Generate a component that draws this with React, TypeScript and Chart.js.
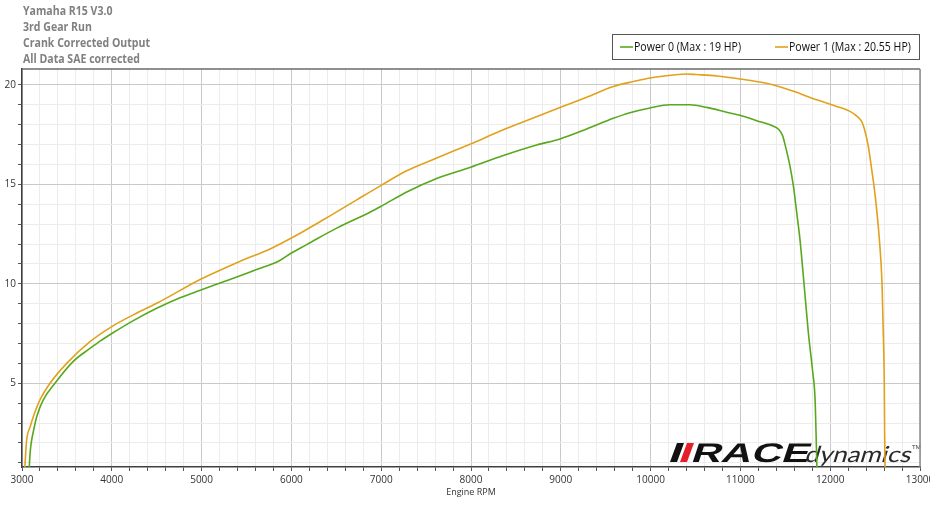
import React, { useRef, useEffect } from 'react';
import { Chart, registerables } from 'chart.js';

Chart.register(...registerables);

// header lines, top-left
const titleLines = ['Yamaha R15 V3.0', '3rd Gear Run', 'Crank Corrected Output', 'All Data SAE corrected'];

// axis labels
const rpmTickLabels = [3000, 4000, 5000, 6000, 7000, 8000, 9000, 10000, 11000, 12000, 13000];
const hpTickLabels = [5, 10, 15, 20];

// Power 0 (green run)
const power0Rpm = [3078, 3086, 3097, 3130, 3164, 3237, 3367, 3571, 3757, 3869, 4000, 4240, 4500, 4760, 5000, 5316, 5613, 5850, 6000, 6170, 6504, 6875, 7000, 7284, 7618, 7989, 8360, 8731, 8991, 9288, 9585, 9770, 9993, 10216, 10438, 10624, 10847, 10996, 11181, 11367, 11430, 11470, 11497, 11552, 11590, 11627, 11663, 11708, 11756, 11805, 11831, 11842, 11850, 11852];
const power0Hp = [0.5, 1.2, 1.81, 2.65, 3.32, 4.16, 5.0, 6.1, 6.75, 7.12, 7.5, 8.15, 8.77, 9.3, 9.7, 10.22, 10.72, 11.12, 11.55, 11.97, 12.8, 13.6, 13.9, 14.62, 15.3, 15.85, 16.45, 16.98, 17.28, 17.78, 18.32, 18.6, 18.84, 19.0, 19.0, 18.87, 18.63, 18.47, 18.2, 17.92, 17.75, 17.45, 17.0, 15.92, 14.92, 13.58, 12.25, 10.03, 7.58, 5.58, 4.25, 2.58, 1.08, 0.5];

// Power 1 (orange run)
const power1Rpm = [3028, 3040, 3052, 3090, 3126, 3200, 3312, 3498, 3757, 4000, 4240, 4500, 5000, 5428, 5762, 6000, 6356, 6727, 7000, 7284, 7618, 7989, 8360, 8657, 8991, 9288, 9585, 9808, 9993, 10253, 10400, 10513, 10736, 10996, 11292, 11590, 11849, 12072, 12220, 12300, 12345, 12380, 12424, 12462, 12499, 12547, 12577, 12591, 12602, 12606, 12610, 12612];
const power1Hp = [0.5, 1.4, 2.15, 2.8, 3.32, 4.16, 5.0, 6.0, 7.09, 7.85, 8.44, 9.02, 10.25, 11.13, 11.75, 12.3, 13.22, 14.22, 14.95, 15.68, 16.32, 17.02, 17.74, 18.27, 18.86, 19.38, 19.92, 20.17, 20.35, 20.5, 20.55, 20.52, 20.45, 20.3, 20.08, 19.68, 19.25, 18.92, 18.67, 18.42, 18.2, 17.8, 16.92, 15.75, 14.5, 12.25, 10.03, 7.58, 5.08, 2.58, 1.08, 0.5];

const GREEN = '#58a81e';
const ORANGE = '#e2a11c';
const FONT = '"Open Sans", "Noto Sans", sans-serif';
const TICK_FONT = '"Liberation Sans Narrow", "Open Sans", sans-serif';

const series = [
  { name: 'Power 0', rpm: power0Rpm, hp: power0Hp, color: GREEN },
  { name: 'Power 1', rpm: power1Rpm, hp: power1Hp, color: ORANGE },
];

// text squeezed horizontally, the source screenshot is narrow
function squeezed(ctx: CanvasRenderingContext2D, text: string, x: number, y: number, font: string, color: string, sx: number) {
  ctx.save();
  ctx.translate(x, y);
  ctx.scale(sx, 1);
  ctx.font = font;
  ctx.fillStyle = color;
  ctx.textBaseline = 'middle';
  ctx.textAlign = 'left';
  ctx.fillText(text, 0, 0);
  ctx.restore();
}

const logoPlugin = {
  id: 'logo',
  beforeDatasetsDraw(chart: any) {
    const ctx: CanvasRenderingContext2D = chart.ctx;
    const base = 462;
    ctx.save();
    // the two slanted bars
    const bar = (x: number, color: string) => {
      ctx.beginPath();
      ctx.moveTo(x, base);
      ctx.lineTo(x + 7, base);
      ctx.lineTo(x + 14, base - 19);
      ctx.lineTo(x + 7, base - 19);
      ctx.closePath();
      ctx.fillStyle = color;
      ctx.fill();
    };
    bar(670, '#111111');
    bar(680, '#e3202a');

    ctx.font = 'bold 27px "Liberation Sans", sans-serif';
    const raceW = ctx.measureText('RACE').width;
    ctx.save();
    ctx.setTransform(118 / raceW, 0, -0.33, 1, 690, base);
    ctx.fillStyle = '#111111';
    ctx.textBaseline = 'alphabetic';
    ctx.fillText('RACE', 0, 0);
    ctx.restore();

    ctx.font = '22px Lato, sans-serif';
    const dynW = ctx.measureText('dynamics').width;
    ctx.save();
    ctx.setTransform(106 / dynW, 0, -0.3, 1, 804, base);
    ctx.fillStyle = '#2a2a2a';
    ctx.fillText('dynamics', 0, 0);
    ctx.restore();

    ctx.font = '6px sans-serif';
    ctx.fillStyle = '#333333';
    ctx.fillText('TM', 912, 449);
    ctx.restore();
  },
};

const framePlugin = {
  id: 'frame',
  afterDraw(chart: any) {
    const ctx: CanvasRenderingContext2D = chart.ctx;
    const a = chart.chartArea;
    ctx.save();
    ctx.lineWidth = 1.5;
    ctx.strokeStyle = '#6a6a6a';
    ctx.beginPath();
    ctx.moveTo(a.left, a.top);
    ctx.lineTo(a.right, a.top);
    ctx.stroke();
    ctx.strokeStyle = '#8c8c8c';
    ctx.beginPath();
    ctx.moveTo(a.right, a.top);
    ctx.lineTo(a.right, a.bottom);
    ctx.stroke();

    // header text
    titleLines.forEach((line, i) => {
      squeezed(ctx, line, 23, 12 + i * 15.7, `bold 12px ${FONT}`, '#808080', 0.88);
    });

    // legend box
    ctx.lineWidth = 1;
    ctx.strokeStyle = '#555555';
    ctx.strokeRect(612.5, 34.5, 307, 25);
    const itemX = [620, 775];
    chart.data.datasets.forEach((ds: any, i: number) => {
      const x = itemX[i];
      ctx.strokeStyle = ds.borderColor;
      ctx.lineWidth = 1.6;
      ctx.beginPath();
      ctx.moveTo(x, 47);
      ctx.lineTo(x + 13, 47);
      ctx.stroke();
      squeezed(ctx, ds.label, x + 14, 47.5, `12px ${FONT}`, '#111111', 0.88);
    });
    ctx.restore();
  },
};

const DynoChart: React.FC = () => {
  const canvasRef = useRef<HTMLCanvasElement | null>(null);

  useEffect(() => {
    if (!canvasRef.current) return;
    const chart = new Chart(canvasRef.current, {
      type: 'line',
      data: {
        datasets: series.map((s) => ({
          label: `${s.name} (Max : ${Math.max(...s.hp)} HP)`,
          data: s.rpm.map((x, i) => ({ x, y: s.hp[i] })),
          borderColor: s.color,
          borderWidth: 1.6,
          pointRadius: 0,
          cubicInterpolationMode: 'monotone' as const,
          fill: false,
        })),
      },
      options: {
        animation: false,
        responsive: false,
        events: [],
        layout: { padding: { top: 69, right: 10, bottom: 25, left: 0 } },
        plugins: {
          legend: { display: false },
          tooltip: { enabled: false },
        },
        scales: {
          x: {
            type: 'linear',
            min: 3000,
            max: 13000,
            ticks: {
              stepSize: 200,
              autoSkip: false,
              maxRotation: 0,
              includeBounds: false,
              padding: 3,
              color: '#333333',
              font: { family: TICK_FONT, size: 10 },
              callback: (v: any) => (rpmTickLabels.includes(v) ? String(v) : ''),
            },
            grid: {
              color: (c: any) => (rpmTickLabels.includes(c.tick?.value) ? '#c9c9c9' : '#ececec'),
              tickColor: '#555555',
              tickLength: 4,
            },
            border: { color: '#404040', width: 1.5 },
            title: {
              display: true,
              text: 'Engine RPM',
              color: '#333333',
              font: { family: TICK_FONT, size: 9 },
              padding: 0,
            },
            afterFit: (s: any) => {
              s.height = 31;
              s.paddingLeft = 0;
              s.paddingRight = 0;
            },
          },
          y: {
            type: 'linear',
            min: 0.79,
            max: 20.8,
            ticks: {
              stepSize: 1,
              includeBounds: false,
              padding: 2,
              color: '#333333',
              font: { family: TICK_FONT, size: 10 },
              callback: (v: any) => (hpTickLabels.includes(v) ? String(v) : ''),
            },
            grid: {
              color: (c: any) => (hpTickLabels.includes(c.tick?.value) ? '#c9c9c9' : '#ececec'),
              tickColor: '#555555',
              tickLength: 4,
            },
            border: { color: '#404040', width: 1.5 },
            afterFit: (s: any) => {
              s.width = 22;
            },
          },
        },
      },
      plugins: [logoPlugin, framePlugin],
    });

    return () => {
      chart.destroy();
    };
  }, []);

  return <canvas ref={canvasRef} width={930} height={523} style={{ display: 'block' }}></canvas>;
};

export default function App() {
  return (
    <div style={{ position: 'fixed', left: 0, top: 0, width: 930, height: 523, background: '#ffffff' }}>
      <DynoChart />
    </div>
  );
}
